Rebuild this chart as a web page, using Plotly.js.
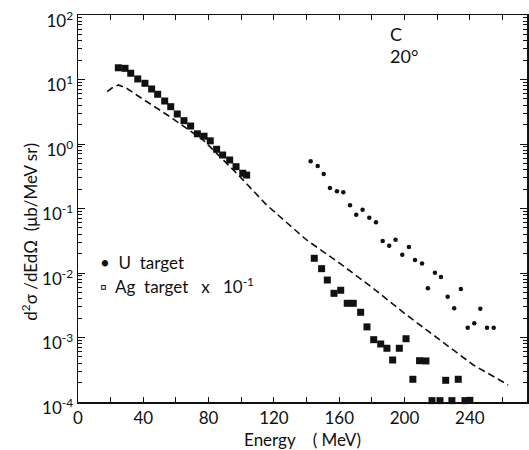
<!DOCTYPE html>
<html>
<head>
<meta charset="utf-8">
<script src="https://cdn.plot.ly/plotly-3.0.1.min.js"></script>
<style>html,body{margin:0;padding:0;background:#fff;}#chart{width:529px;height:450px;}</style>
</head>
<body>
<div id="chart"></div>
<script>
// Ag target x 0.1 — low-energy group (MeV, μb/MeV sr)
const agLowE = [24.7, 28.8, 32.3, 36.6, 41.0, 45.1, 48.8, 53.1, 56.8, 60.8, 64.9, 69.0, 73.1, 77.2, 81.0, 84.9, 88.6, 92.9, 96.8, 100.9, 103.3];
const agLowY = [15.2, 14.9, 12.5, 10.2, 8.73, 7.13, 5.90, 4.64, 3.79, 2.92, 2.30, 1.90, 1.44, 1.32, 1.12, 0.828, 0.675, 0.565, 0.445, 0.352, 0.330];
// Ag target x 0.1 — high-energy group
const agHighE = [144.7, 149.2, 152.7, 156.8, 160.9, 164.9, 168.6, 173.1, 177.0, 181.1, 185.4, 189.2, 192.7, 196.8, 200.9, 205.1, 209.2, 213.1, 216.8, 221.7, 225.2, 229.0, 232.9, 237.0, 240.0];
const agHighY = [0.0169, 0.01167, 0.00778, 0.00484, 0.00540, 0.00339, 0.00339, 0.00246, 0.00146, 0.000925, 0.000793, 0.000681, 0.000448, 0.000681, 0.000957, 0.000225, 0.000437, 0.000433, 0.000105, 0.000105, 0.000217, 0.000105, 0.000225, 0.000105, 0.000106];
// U target
const uE = [142.5, 146.8, 150.5, 154.3, 158.6, 162.5, 166.6, 170.4, 174.3, 178.4, 182.5, 186.6, 190.6, 194.5, 198.6, 202.7, 206.4, 210.7, 214.3, 218.6, 222.3, 226.4, 230.4, 234.5, 238.7, 242.7, 246.4, 250.5, 254.6];
const uY = [0.540, 0.456, 0.343, 0.208, 0.185, 0.178, 0.112, 0.0802, 0.0957, 0.0720, 0.0611, 0.0313, 0.0265, 0.0328, 0.0192, 0.0253, 0.0159, 0.0141, 0.00579, 0.0101, 0.00867, 0.00430, 0.00284, 0.00565, 0.00142, 0.00166, 0.00280, 0.00142, 0.00142];
// calculation (dashed curve)
const calcE = [17.9, 20.8, 24.7, 30.0, 35.9, 56.3, 76.7, 97.2, 115.6, 140.0, 160.4, 180.8, 201.3, 221.7, 242.1, 263.5];
const calcY = [6.47, 7.38, 8.22, 7.25, 5.75, 2.65, 1.15, 0.352, 0.113, 0.0325, 0.0141, 0.00579, 0.00223, 0.000915, 0.000375, 0.000184];

const xTickVals = [0, 20, 40, 60, 80, 100, 120, 140, 160, 180, 200, 220, 240, 260];
const xTickText = ["0", "", "40", "", "80", "", "120", "", "160", "", "200", "", "240", ""];
const yTickVals = [1e-4, 1e-3, 1e-2, 1e-1, 1, 10, 100];
const yTickText = ["10<sup>-4</sup>", "10<sup>-3</sup>", "10<sup>-2</sup>", "10<sup>-1</sup>", "10<sup>0</sup>", "10<sup>1</sup>", "10<sup>2</sup>"];

const yMinor = [];
for (let d = -4; d <= 1; d++) for (let m = 2; m <= 9; m++) yMinor.push(m * Math.pow(10, d));

const FONT = "Lato, 'DejaVu Sans', sans-serif";

const traces = [
  {x: calcE, y: calcY, mode: 'lines', line: {color: '#111', width: 1.6, dash: '7px,4px'}, showlegend: false, hoverinfo: 'skip'},
  {x: agLowE, y: agLowY, mode: 'markers', marker: {symbol: 'square', size: 7, color: '#111'}, showlegend: false, cliponaxis: false},
  {x: agHighE, y: agHighY, mode: 'markers', marker: {symbol: 'square', size: 7, color: '#111'}, showlegend: false, cliponaxis: false},
  {x: uE, y: uY, mode: 'markers', marker: {symbol: 'circle', size: 4.5, color: '#111'}, showlegend: false, cliponaxis: false}
];

const layout = {
  width: 529, height: 450,
  margin: {l: 78, r: 2, t: 15, b: 48},
  paper_bgcolor: '#fff', plot_bgcolor: '#fff',
  font: {family: FONT, color: '#111', size: 16},
  showlegend: false,
  xaxis: {
    range: [0, 275], showgrid: false, zeroline: false,
    showline: true, linecolor: '#111', linewidth: 1.5, mirror: 'ticks',
    ticks: 'inside', ticklen: 5, tickwidth: 1, tickcolor: '#111',
    tickmode: 'array', tickvals: xTickVals, ticktext: xTickText,
    tickfont: {size: 17, family: FONT},
    title: {text: 'Energy    ( MeV)', font: {size: 17, family: FONT}, standoff: 12}
  },
  yaxis: {
    type: 'log', range: [-4, 2], showgrid: false, zeroline: false,
    showline: true, linecolor: '#111', linewidth: 1.5, mirror: 'ticks',
    ticks: 'inside', ticklen: 7, tickwidth: 1, tickcolor: '#111',
    tickmode: 'array', tickvals: yTickVals, ticktext: yTickText,
    tickfont: {size: 17, family: FONT}, ticklabelshift: 6, ticklabeloverflow: 'allow',
    minor: {tickvals: yMinor, ticks: 'inside', ticklen: 4, tickwidth: 1, tickcolor: '#111', showgrid: false}
  },
  annotations: [
    {xref: 'paper', yref: 'paper', x: -0.107, y: 0.44, text: 'd<sup>2</sup>σ /dEdΩ  (μb/MeV sr)', textangle: -90, showarrow: false, xanchor: 'center', yanchor: 'middle', font: {size: 17, family: FONT}},
    {xref: 'paper', yref: 'paper', x: 0.69, y: 0.95, text: 'C', showarrow: false, xanchor: 'left', yanchor: 'middle', font: {size: 18, family: FONT}},
    {xref: 'paper', yref: 'paper', x: 0.69, y: 0.895, text: '20°', showarrow: false, xanchor: 'left', yanchor: 'middle', font: {size: 18, family: FONT}},
    {xref: 'paper', yref: 'paper', x: 0.045, y: 0.36, text: '•  U  target', showarrow: false, xanchor: 'left', yanchor: 'middle', font: {size: 17, family: FONT}},
    {xref: 'paper', yref: 'paper', x: 0.045, y: 0.30, text: '▫  Ag  target   x   10<sup>-1</sup>', showarrow: false, xanchor: 'left', yanchor: 'middle', font: {size: 17, family: FONT}}
  ]
};

Plotly.newPlot('chart', traces, layout, {displayModeBar: false, staticPlot: true});
</script>
</body>
</html>
